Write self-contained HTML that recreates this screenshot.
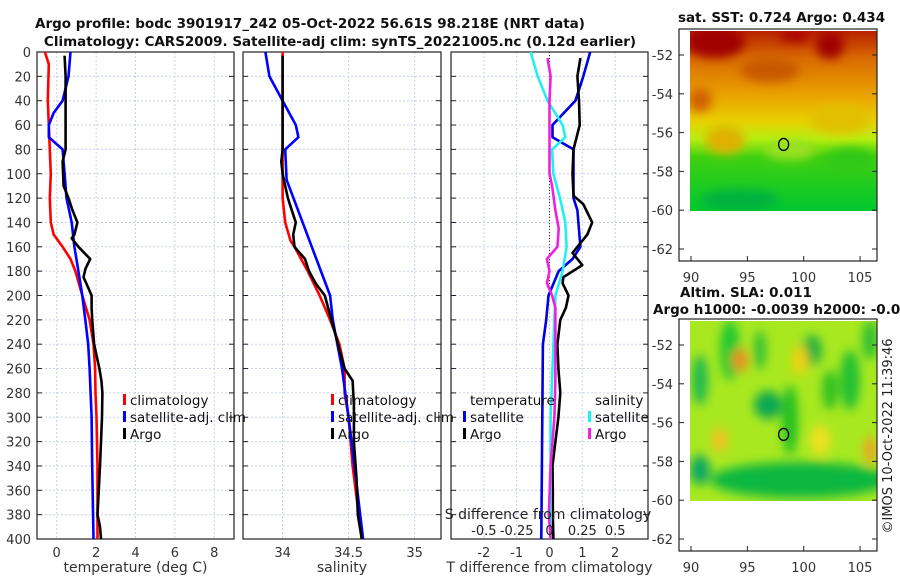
<!DOCTYPE html>
<html><head><meta charset="utf-8"><style>
body{margin:0;background:#fff;width:900px;height:580px;overflow:hidden;font-family:"Liberation Sans","DejaVu Sans",sans-serif}
svg text{font-family:"DejaVu Sans","Liberation Sans",sans-serif}
</style></head><body>
<svg id="c" width="900" height="580" xmlns="http://www.w3.org/2000/svg">
<defs>
<filter id="bl" x="-50%" y="-50%" width="200%" height="200%"><feGaussianBlur stdDeviation="5"/></filter>
<linearGradient id="sst" x1="0" y1="0" x2="0" y2="1">
<stop offset="0" stop-color="#b82000"/><stop offset="0.15" stop-color="#d86a00"/><stop offset="0.35" stop-color="#eaa000"/><stop offset="0.5" stop-color="#e8d000"/><stop offset="0.6" stop-color="#b8ee10"/><stop offset="0.7" stop-color="#40d010"/><stop offset="1" stop-color="#00c830"/></linearGradient>
<clipPath id="clipSst"><rect x="690" y="31" width="187" height="180"/></clipPath>
<clipPath id="clipSla"><rect x="690" y="321" width="187" height="180"/></clipPath>
</defs>
<g id="plots"></g>
<g id="maps">
 <g clip-path="url(#clipSst)">
  <rect x="690" y="31" width="187" height="180" fill="url(#sst)"/>
  <g filter="url(#bl)">
   <ellipse cx="715" cy="42" rx="30" ry="16" fill="#a00000"/>
   <ellipse cx="830" cy="45" rx="14" ry="14" fill="#a00000"/>
   <ellipse cx="795" cy="36" rx="15" ry="6" fill="#a80000"/>
   <ellipse cx="770" cy="70" rx="30" ry="12" fill="#c85800"/>
   <ellipse cx="700" cy="100" rx="12" ry="12" fill="#d06000"/>
   <ellipse cx="725" cy="140" rx="20" ry="14" fill="#e0b000"/>
   <ellipse cx="840" cy="120" rx="30" ry="14" fill="#e0c000"/>
   <ellipse cx="790" cy="150" rx="25" ry="10" fill="#9ae020"/>
   <ellipse cx="850" cy="160" rx="25" ry="12" fill="#30c818"/>
   <ellipse cx="740" cy="200" rx="40" ry="10" fill="#00b040"/>
  </g>
 </g>
 <g clip-path="url(#clipSla)">
  <rect x="690" y="321" width="187" height="180" fill="#a8e820"/>
  <g filter="url(#bl)">
   <ellipse cx="730" cy="350" rx="10" ry="30" fill="#20c830"/>
   <ellipse cx="700" cy="380" rx="8" ry="25" fill="#20b850"/>
   <ellipse cx="768" cy="405" rx="14" ry="14" fill="#10a850"/>
   <ellipse cx="740" cy="360" rx="8" ry="12" fill="#e89020"/>
   <ellipse cx="790" cy="420" rx="8" ry="35" fill="#20c020"/>
   <ellipse cx="812" cy="350" rx="10" ry="15" fill="#20b040"/>
   <ellipse cx="850" cy="380" rx="10" ry="30" fill="#20c030"/>
   <ellipse cx="830" cy="390" rx="8" ry="20" fill="#30c020"/>
   <ellipse cx="760" cy="350" rx="6" ry="20" fill="#30c030"/>
   <ellipse cx="870" cy="340" rx="8" ry="20" fill="#30c030"/>
   <ellipse cx="800" cy="480" rx="90" ry="18" fill="#10b840"/>
   <ellipse cx="700" cy="470" rx="10" ry="15" fill="#10a860"/>
   <ellipse cx="800" cy="360" rx="8" ry="15" fill="#f0d010"/>
   <ellipse cx="820" cy="440" rx="10" ry="15" fill="#f0e020"/>
   <ellipse cx="870" cy="450" rx="6" ry="14" fill="#f0a020"/>
   <ellipse cx="720" cy="440" rx="8" ry="12" fill="#f0c020"/>
  </g>
 </g>
</g>
<g id="mapAxes"></g>
</svg>
<script>
// ---- data (depth in m) ----
const tClimD=[0,10,40,60,100,120,140,150,160,170,180,200,220,240,260,280,300,340,400];
const tClimV=[-0.6,-0.4,-0.45,-0.4,-0.3,-0.35,-0.3,-0.15,0.3,0.7,0.95,1.3,1.67,1.87,1.95,1.97,2.02,2.07,2.07];
const tSatD=[0,20,40,50,60,70,80,100,120,140,160,180,200,220,240,260,280,300,340,400];
const tSatV=[0.7,0.6,0.3,-0.15,-0.4,-0.4,0.3,0.4,0.5,0.76,0.9,1.1,1.3,1.45,1.6,1.67,1.72,1.77,1.8,1.87];
const tArgoD=[3,20,80,90,110,120,130,140,150,153,160,170,178,185,190,200,210,220,240,260,270,280,300,340,380,390,400];
const tArgoV=[0.4,0.45,0.45,0.3,0.35,0.6,0.8,1.05,0.9,0.76,1.1,1.7,1.46,1.36,1.5,1.77,1.77,1.8,1.9,2.17,2.27,2.32,2.3,2.2,2.07,2.2,2.25];
const sClimD=[0,120,140,155,160,180,200,220,240,260,280,300,340,400];
const sClimV=[34.0,34.0,34.02,34.06,34.09,34.19,34.28,34.36,34.43,34.47,34.47,34.5,34.53,34.6];
const sSatD=[0,20,40,60,70,80,105,200,220,260,300,400];
const sSatV=[33.87,33.9,34.0,34.1,34.12,34.02,34.03,34.36,34.38,34.45,34.5,34.61];
const sArgoD=[3,80,90,100,110,120,130,140,150,160,170,180,190,200,220,240,260,270,290,320,350,380,400];
const sArgoV=[34.0,34.0,33.99,34.0,34.02,34.04,34.07,34.1,34.08,34.09,34.17,34.2,34.25,34.32,34.37,34.42,34.47,34.53,34.54,34.54,34.56,34.57,34.6];
const dtSatD=[0,20,40,60,70,80,100,120,130,160,170,180,200,220,240,400];
const dtSatV=[1.24,1.03,0.79,0.09,0.09,0.73,0.73,0.73,0.85,0.94,0.7,0.28,-0.03,-0.1,-0.2,-0.25];
const dtArgoD=[5,20,40,60,80,100,118,125,140,150,165,175,185,190,200,210,220,240,260,280,300,320,340,360,380,400];
const dtArgoV=[0.94,0.85,0.9,0.92,0.73,0.7,0.73,1.03,1.3,1.15,0.7,1.0,0.42,0.4,0.58,0.5,0.33,0.24,0.27,0.33,0.27,0.18,0.09,0.1,0.1,0.12];
const dsSatD=[0,20,40,60,70,80,100,120,140,160,180,200,240,300,400];
const dsSatV=[-0.144,-0.09,-0.015,0.1,0.12,0.02,0.03,0.08,0.12,0.13,0.1,0.045,0.03,0.008,0.008];
const dsArgoD=[5,20,40,100,110,130,145,160,170,180,190,200,210,269,300,340,380,400];
const dsArgoV=[-0.015,0.008,0,0.0,0.02,0.045,0.07,0.06,-0.02,0.0,-0.02,0.02,0.045,0.045,0.037,0.008,-0.005,0.008];
const depthTicks=[0,20,40,60,80,100,120,140,160,180,200,220,240,260,280,300,320,340,360,380,400];
const tTicks=[0,2,4,6,8];
const sTicks=[34,34.5,35];
const dtTicks=[-2,-1,0,1,2];
const dsTicks=[-0.5,-0.25,0,0.25,0.5];
const latTicks=[-52,-54,-56,-58,-60,-62];
const lonTicks=[90,95,100,105];

const NS="http://www.w3.org/2000/svg";
const root=document.getElementById('plots');
function mk(tag,attrs,parent,txt){const e=document.createElementNS(NS,tag);for(const k in attrs)e.setAttribute(k,attrs[k]);if(txt!==undefined)e.textContent=txt;(parent||root).appendChild(e);return e;}
const Y0=52,Y1=539;
const yD=d=>Y0+(d/400)*(Y1-Y0);
function panel(name,x0,x1,vmin,vmax,ticks,tickLbl,xlabel){
  const g=mk('g',{});
  
  
  const sx=v=>x0+(v-vmin)/(vmax-vmin)*(x1-x0);
  depthTicks.forEach(d=>{const l=mk('line',{x1:x0,x2:x1,y1:yD(d),y2:yD(d),stroke:'#c8d0ee','stroke-dasharray':'2,2','stroke-width':1},g);
    
    mk('line',{x1:x0,x2:x0+5,y1:yD(d),y2:yD(d),stroke:'#222'},g);mk('line',{x1:x1-5,x2:x1,y1:yD(d),y2:yD(d),stroke:'#222'},g);});
  ticks.forEach(v=>{const l=mk('line',{x1:sx(v),x2:sx(v),y1:Y0,y2:Y1,stroke:'#c8d0ee','stroke-dasharray':'2,2'},g);
    
    if(tickLbl){const t=mk('text',{x:sx(v),y:Y1+18,'text-anchor':'middle','font-size':13,fill:'#333'},g,String(v));
    }});
  const r=mk('rect',{x:x0,y:Y0,width:x1-x0,height:Y1-Y0,fill:'none',stroke:'#222','stroke-width':1.2},g);
  
  const xl=mk('text',{x:(x0+x1)/2,y:572,'text-anchor':'middle','font-size':14,fill:'#333'},g,xlabel);
  
  return {g,sx};
}
function line(p,D,V,color,name,w){
  const pts=D.map((d,i)=>p.sx(V[i]).toFixed(1)+','+yD(d).toFixed(1)).join(' ');
  const l=mk('polyline',{points:pts,fill:'none',stroke:color,'stroke-width':w||2.6,'stroke-linejoin':'round'},p.g);
  
}
depthTicks.forEach(d=>{const t=mk('text',{x:31,y:yD(d)+5,'text-anchor':'end','font-size':13,fill:'#333'},root,String(d));
  });
const t1=mk('text',{x:310,y:28,'text-anchor':'middle','font-size':13.5,'font-weight':'bold',fill:'#111'},root,'Argo profile: bodc 3901917_242 05-Oct-2022 56.61S 98.218E (NRT data)');

const t2=mk('text',{x:340,y:46,'text-anchor':'middle','font-size':13.5,'font-weight':'bold',fill:'#111'},root,'Climatology: CARS2009. Satellite-adj clim: synTS_20221005.nc (0.12d earlier)');


const p1=panel('temperature-panel',37,234,-1,9,tTicks,true,'temperature (deg C)');
line(p1,tClimD,tClimV,'#f00','temp-climatology-line');
line(p1,tSatD,tSatV,'#00f','temp-satellite-line');
line(p1,tArgoD,tArgoV,'#000','temp-argo-line');
const p2=panel('salinity-panel',243,441,33.7,35.2,sTicks,true,'salinity');
line(p2,sClimD,sClimV,'#f00','sal-climatology-line');
line(p2,sSatD,sSatV,'#00f','sal-satellite-line');
line(p2,sArgoD,sArgoV,'#000','sal-argo-line');
const p3=panel('difference-panel',451,648,-3,3,dtTicks,true,'T difference from climatology');
const p3s={g:p3.g,sx:v=>451+(v+0.75)/1.5*197};
const zl=mk('line',{x1:p3.sx(0),x2:p3.sx(0),y1:Y0,y2:yD(200),stroke:'#333','stroke-dasharray':'1,2'},p3.g);

line(p3,dtSatD,dtSatV,'#0000e0','dT-satellite-line');
line(p3,dtArgoD,dtArgoV,'#000','dT-argo-line');
line(p3s,dsSatD,dsSatV,'#20f0f0','dS-satellite-line');
line(p3s,dsArgoD,dsArgoV,'#f020e0','dS-argo-line');
const st=mk('text',{x:548,y:519,'text-anchor':'middle','font-size':14,fill:'#222'},p3.g,'S difference from climatology');

dsTicks.forEach(v=>{const t=mk('text',{x:p3s.sx(v),y:535,'text-anchor':'middle','font-size':13,fill:'#222'},p3.g,String(v));
  });
function legend(x,y,items,name,header){
  const g=mk('g',{});
  let yy=y;
  if(header){mk('text',{x:x,y:yy,'font-size':13.5,fill:'#111'},g,header);yy+=17;}
  items.forEach(it=>{const b=mk('rect',{x:x-7,y:yy-11,width:3,height:11,fill:it[1]},g);
    
    const t=mk('text',{x:x,y:yy,'font-size':13.5,fill:'#111'},g,it[0]);
    yy+=17;});
}
legend(130,405,[['climatology','#f00'],['satellite-adj. clim','#00f'],['Argo','#000']],'temp-legend');
legend(338,405,[['climatology','#f00'],['satellite-adj. clim','#00f'],['Argo','#000']],'sal-legend');
legend(470,405,[['satellite','#0000e0'],['Argo','#000']],'dT-legend','temperature');
legend(595,405,[['satellite','#20f0f0'],['Argo','#f020e0']],'dS-legend','salinity');

const ma=document.getElementById('mapAxes');
function mapAxes(top,title1,title2,name){
  const g=mk('g',{},ma);
  const lx=v=>691+(v-90)*11.27, ly=v=>top+26+(-52-v)*19.4;
  mk('rect',{x:679,y:top,width:198,height:232,fill:'none',stroke:'#222','stroke-width':1.2},g);
  latTicks.forEach(v=>{mk('line',{x1:679,x2:684,y1:ly(v),y2:ly(v),stroke:'#222'},g);mk('line',{x1:872,x2:877,y1:ly(v),y2:ly(v),stroke:'#222'},g);
    const t=mk('text',{x:673,y:ly(v)+5,'text-anchor':'end','font-size':13,fill:'#333'},g,String(v));
    });
  lonTicks.forEach(v=>{mk('line',{x1:lx(v),x2:lx(v),y1:top+232,y2:top+227,stroke:'#222'},g);
    const t=mk('text',{x:lx(v),y:top+253,'text-anchor':'middle','font-size':13,fill:'#333'},g,String(v));
    });
  const c=mk('ellipse',{cx:lx(98.218),cy:ly(-56.61),rx:5,ry:6,fill:'none',stroke:'#000','stroke-width':1.3},g);
  
  if(title1){const t=mk('text',{x:title1[1],y:title1[2],'font-size':13.5,'font-weight':'bold',fill:'#111'},g,title1[0]);}
  if(title2){const t=mk('text',{x:title2[1],y:title2[2],'font-size':13.5,'font-weight':'bold',fill:'#111'},g,title2[0]);}
}
mapAxes(29,['sat. SST: 0.724 Argo: 0.434',678,22],null,'sst-map-axes');
mapAxes(319,['Altim. SLA: 0.011',680,297],['Argo h1000: -0.0039 h2000: -0.02',653,314],'sla-map-axes');
const cr=mk('text',{x:0,y:0,'font-size':13,fill:'#222','text-anchor':'middle',transform:'translate(892,436) rotate(-90)'},ma,'©IMOS 10-Oct-2022 11:39:46');

</script>
</body></html>
